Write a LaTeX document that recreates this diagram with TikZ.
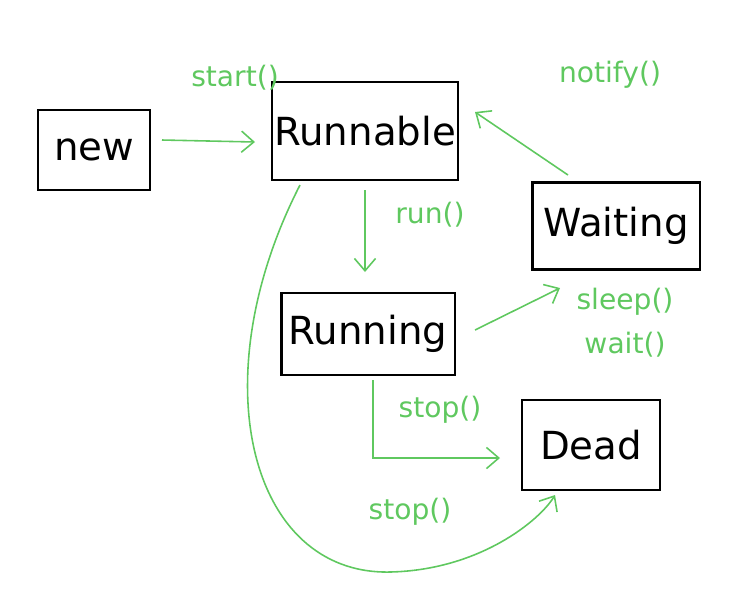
\documentclass[tikz,border=0pt]{standalone}
\usepackage{fontspec}
\setmainfont{DejaVu Sans}
\usetikzlibrary{arrows.meta}
\definecolor{gr}{RGB}{95,200,95}
\begin{document}
\begin{tikzpicture}[x=0.01cm,y=-0.01cm,
  st/.style={draw=black,line width=0.6pt,inner sep=0pt,font=\fontsize{11}{13}\selectfont},
  ar/.style={draw=gr,line width=0.45pt,-{Straight Barb[length=3.5pt,width=6pt]}},
  lb/.style={text=gr,font=\fontsize{8}{10}\selectfont}]
\useasboundingbox (0,0) rectangle (740,611);
\node[st,minimum width=1.12cm,minimum height=0.8cm] (new) at (94,150) {new};
\node[st,minimum width=1.86cm,minimum height=0.98cm] (runnable) at (365,131) {Runnable};
\node[st,minimum width=1.67cm,minimum height=0.87cm] (waiting) at (616,226) {Waiting};
\node[st,minimum width=1.73cm,minimum height=0.82cm] (running) at (368,334) {Running};
\node[st,minimum width=1.38cm,minimum height=0.9cm] (dead) at (591,445) {Dead};
\coordinate (a1) at (162,140); \coordinate (a2) at (255,142);
\draw[ar] (a1) -- (a2);
\node[lb] (l1) at (235,78) {start()};
\coordinate (b1) at (365,190); \coordinate (b2) at (365,272);
\draw[ar] (b1) -- (b2);
\node[lb] (l2) at (430,215) {run()};
\coordinate (c1) at (475,330); \coordinate (c2) at (560,288);
\draw[ar] (c1) -- (c2);
\node[lb] (l3) at (625,302) {sleep()};
\node[lb] (l4) at (625,345) {wait()};
\coordinate (d1) at (568,175); \coordinate (d2) at (475,112);
\draw[ar] (d1) -- (d2);
\node[lb] (l5) at (610,75) {notify()};
\coordinate (e1) at (373,380); \coordinate (e2) at (373,458); \coordinate (e3) at (500,458);
\draw[ar] (e1) -- (e2) -- (e3);
\node[lb] (l6) at (440,410) {stop()};
\coordinate (f1) at (300,185); \coordinate (f2) at (555,495);
\draw[ar] (f1) .. controls (200,380) and (250,575) .. (390,572) .. controls (480,570) and (540,520) .. (f2);
\node[lb] (l7) at (410,512) {stop()};
\end{tikzpicture}
\end{document}
